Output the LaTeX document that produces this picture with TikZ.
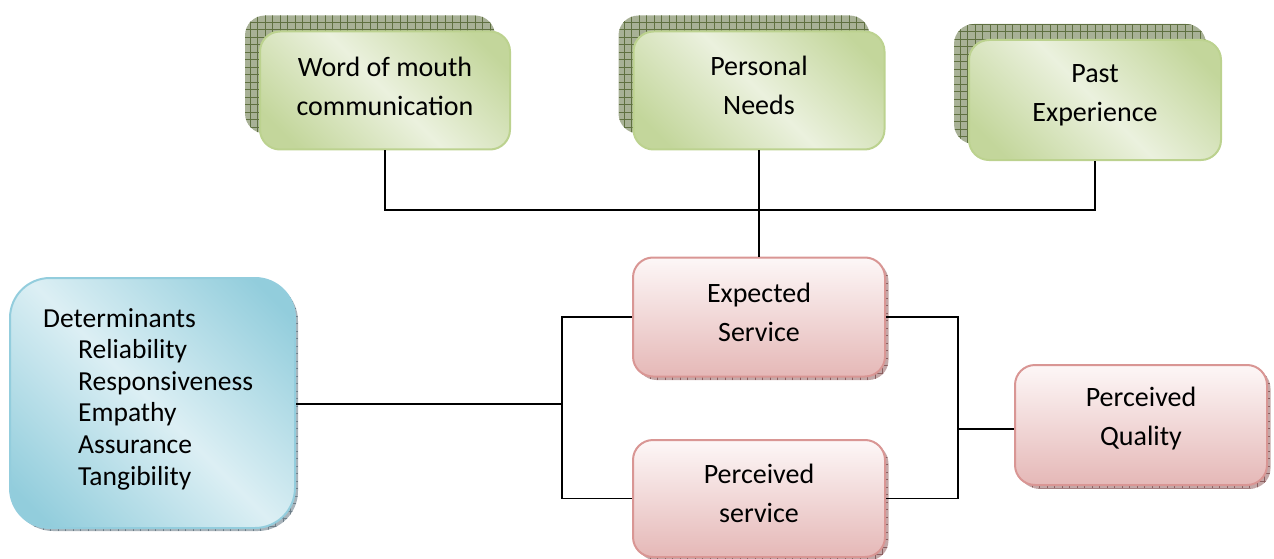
\documentclass[tikz,border=0pt]{standalone}
\usepackage{fontspec}
\setmainfont{Carlito}
\usetikzlibrary{shadows}
\definecolor{gdark}{HTML}{C3D69B}
\definecolor{glight}{HTML}{EBF1DE}
\definecolor{gborder}{HTML}{BCD28F}
\definecolor{rtop}{HTML}{FDF7F7}
\definecolor{rbot}{HTML}{E5B8B7}
\definecolor{rborder}{HTML}{D99694}
\definecolor{bdark}{HTML}{92CDDC}
\definecolor{blight}{HTML}{DCEFF4}
\definecolor{bborder}{HTML}{93CDDD}
\definecolor{shg}{HTML}{A8B196}
\definecolor{shgl}{HTML}{5F7040}
\definecolor{shr}{HTML}{C4A8A8}
\definecolor{shrl}{HTML}{8A5E5F}
\definecolor{shb}{HTML}{A8B3BA}
\definecolor{shbl}{HTML}{6E7E88}
\pgfdeclarehorizontalshading{greenband}{100bp}{color(0bp)=(gdark); color(22bp)=(gdark); color(50bp)=(glight); color(78bp)=(gdark); color(100bp)=(gdark)}
\pgfdeclarehorizontalshading{blueband}{100bp}{color(0bp)=(bdark); color(20bp)=(bdark); color(50bp)=(blight); color(80bp)=(bdark); color(100bp)=(bdark)}
\tikzset{
  gridfill/.style={path picture={\draw[#1, line width=0.5pt, step=7.5pt] (path picture bounding box.south west) grid (path picture bounding box.north east);}},
  gbox/.style={draw=gborder, line width=2pt, rounded corners=20pt, shading=greenband, shading angle=45,
    minimum width=250pt, minimum height=118pt, inner sep=0pt,
    general shadow={shadow xshift=-15pt, shadow yshift=16pt, fill=shg, draw=none, gridfill=shgl}},
  rbox/.style={draw=rborder, line width=2pt, rounded corners=20pt, top color=rtop, bottom color=rbot,
    minimum width=252pt, minimum height=119pt, inner sep=0pt,
    general shadow={shadow xshift=3.5pt, shadow yshift=-3.5pt, fill=shr, draw=none, gridfill=shrl}},
  bbox/.style={draw=bborder, line width=2pt, rounded corners=40pt, shading=blueband, shading angle=45,
    minimum width=285pt, minimum height=250pt, inner sep=0pt,
    general shadow={shadow xshift=3pt, shadow yshift=-3pt, fill=shb, draw=none, gridfill=shbl}},
  txt/.style={align=center, inner sep=0pt, font=\fontsize{28}{39}\selectfont},
  conn/.style={line width=1.6pt, black},
}
\begin{document}
\begin{tikzpicture}[x=1pt,y=-1pt]
\useasboundingbox (0,0) rectangle (1274,559);
% green boxes
\node[gbox] (wom) at (385,90.5) {};
\node[txt] (womt) at ([yshift=4.5pt]wom.center) {Word of mouth\\communication};
\node[gbox, minimum width=251pt] (pn) at (759,90.5) {};
\node[txt] (pnt) at ([yshift=5pt]pn.center) {Personal\\Needs};
\node[gbox, minimum width=252pt, minimum height=120pt] (pe) at (1095,100) {};
\node[txt] (pet) at ([yshift=5pt]pe.center) {Past\\Experience};
% red boxes
\node[rbox] (es) at (759,317) {};
\node[txt] (est) at ([yshift=5pt]es.center) {Expected\\Service};
\node[rbox, minimum height=117pt] (ps) at (759,498.5) {};
\node[txt] (pst) at ([yshift=5pt]ps.center) {Perceived\\service};
\node[rbox, minimum height=120pt] (pq) at (1141,425) {};
\node[txt] (pqt) at ([yshift=6pt]pq.center) {Perceived\\Quality};
% blue box
\node[bbox] (det) at (152.5,403) {};
\node[inner sep=0pt, anchor=base west, align=left, font=\fontsize{27.5}{31.6}\selectfont] (dett) at (43,485)
  {Determinants\\\hspace*{35pt}Reliability\\\hspace*{35pt}Responsiveness\\\hspace*{35pt}Empathy\\\hspace*{35pt}Assurance\\\hspace*{35pt}Tangibility};
% connectors
\coordinate (top) at (759,210);
\coordinate (L) at (562,404);
\coordinate (R) at (958,429);
\draw[conn] (wom.south) |- (top);
\draw[conn] (pe.south) |- (top);
\draw[conn] (pn.south) -- (es.north);
\draw[conn] (det.east |- L) -- (L);
\draw[conn] (es.west) -| (L) |- (ps.west);
\draw[conn] (es.east) -| (R) |- (ps.east);
\draw[conn] (R) -- (R -| pq.west);
\end{tikzpicture}
\end{document}
